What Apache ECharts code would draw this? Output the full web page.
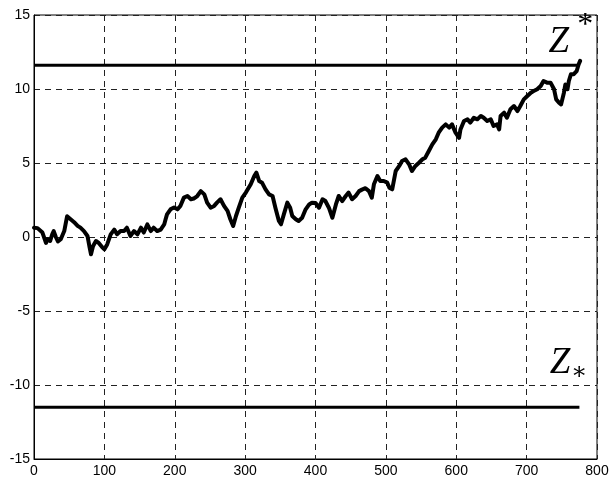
<!DOCTYPE html>
<html><head><meta charset="utf-8">
<script src="https://cdn.jsdelivr.net/npm/echarts@6/dist/echarts.min.js"></script>
<style>html,body{margin:0;padding:0;background:#fff}#c{width:612px;height:482px}</style>
</head><body><div id="c"></div>
<script>
var xTicks = [0,100,200,300,400,500,600,700,800];
var yTicks = [-15,-10,-5,0,5,10,15];
var pathX = [0,5,7,12,17,19,23,26,28,31,34,38,43,47,52,57,62,66,71,76,79,81,84,88,92,97,100,104,109,114,118,123,128,132,137,142,147,152,156,161,166,170,175,180,185,187,189,194,199,
204,208,213,218,223,227,232,237,242,246,251,256,260,265,270,275,279,283,287,291,296,301,308,313,316,320,324,329,334,339,343,348,351,355,360,364,367,372,376,381,386,391,395,
400,405,410,414,419,424,429,433,438,443,447,452,457,462,466,471,476,480,483,488,492,497,502,505,509,514,519,523,528,533,537,542,547,552,556,561,566,571,575,580,585,590,594,599,604,
606,611,616,620,625,630,635,639,644,649,653,658,661,663,668,672,677,682,687,691,696,701,706,710,715,720,724,729,734,739,742,746,749,753,755,758,760,763,767,771,774,776];
var pathY = [0.63,0.6,0.5,0.3,-0.4,-0.15,-0.27,0.2,0.4,0,-0.3,-0.15,0.4,1.4,1.2,1.0,0.75,0.63,0.4,0.07,-0.7,-1.17,-0.6,-0.27,-0.4,-0.7,-0.83,-0.5,0.18,0.5,0.18,0.4,0.4,0.63,0.07,0.4,0.18,0.63,0.3,0.85,0.4,0.63,0.4,0.5,0.85,1.2,1.53,1.87,2.0,
1.87,2.1,2.66,2.77,2.55,2.6,2.77,3.1,2.88,2.32,1.98,2.1,2.32,2.55,2.1,1.76,1.2,0.74,1.42,1.98,2.66,3.0,3.56,4.12,4.35,3.78,3.67,3.22,2.88,2.77,1.98,1.08,0.86,1.53,2.32,1.98,1.42,1.2,1.08,1.3,1.87,2.2,2.32,
2.3,1.98,2.55,2.43,1.98,1.3,2.2,2.77,2.43,2.77,3.0,2.55,2.77,3.1,3.2,3.3,3.1,2.66,3.56,4.12,3.78,3.78,3.67,3.33,3.22,4.46,4.8,5.13,5.25,4.91,4.46,4.8,5.02,5.25,5.36,5.81,6.26,6.6,7.05,7.39,7.61,7.39,7.61,7.05,6.7,
7.27,7.84,7.95,7.73,8.06,7.95,8.18,8.06,7.84,7.95,7.5,7.61,7.27,8.18,8.4,8.06,8.63,8.85,8.51,8.85,9.3,9.53,9.75,9.86,9.98,10.2,10.54,10.43,10.43,9.98,9.3,9.08,8.96,9.75,10.3,9.98,10.54,11.0,11.0,11.2,11.67,11.9];
var upperLevel = 11.6;
var lowerLevel = -11.5;
var levelEnd = 775;

var chart = echarts.init(document.getElementById('c'), null, {renderer:'canvas'});
var lineData = pathX.map(function(x,i){return [x, pathY[i]];});
var font = 'Liberation Sans, Arial, sans-serif';
chart.setOption({
  animation:false,
  backgroundColor:'#fff',
  grid:{left:34,right:15,top:15,bottom:23,show:true,borderColor:'#000',borderWidth:1,containLabel:false},
  xAxis:{type:'value',min:xTicks[0],max:xTicks[xTicks.length-1],interval:100,
    axisLine:{show:true,onZero:false,lineStyle:{color:'#000',width:1}},
    axisTick:{show:false},
    axisLabel:{color:'#000',fontSize:14,fontFamily:font,margin:5},
    splitLine:{show:true,lineStyle:{color:'#222',type:[6,5],width:1}}},
  yAxis:{type:'value',min:yTicks[0],max:yTicks[yTicks.length-1],interval:5,
    axisLine:{show:true,onZero:false,lineStyle:{color:'#000',width:1}},
    axisTick:{show:false},
    axisLabel:{color:'#000',fontSize:14,fontFamily:font,margin:4},
    splitLine:{show:true,lineStyle:{color:'#222',type:[6,5],width:1}}},
  series:[
    {type:'line',data:[[0,upperLevel],[levelEnd,upperLevel]],showSymbol:false,lineStyle:{color:'#000',width:3},z:3},
    {type:'line',data:[[0,lowerLevel],[levelEnd,lowerLevel]],showSymbol:false,lineStyle:{color:'#000',width:3},z:3},
    {type:'line',data:lineData,showSymbol:false,lineStyle:{color:'#000',width:4,join:'round',cap:'round'},z:4}
  ]
});
function px(x,y){return chart.convertToPixel({gridIndex:0},[x,y]);}
var zTop = px(731,11.9), sTop = px(772,15.35);
var zBot = px(733,-9.75), sBot = px(763,-8.35);
var serif = 'Liberation Serif, Times New Roman, serif';
chart.setOption({graphic:[
  {type:'text',x:zTop[0],y:zTop[1],style:{text:'Z',font:'italic 37px '+serif,fill:'#000',textVerticalAlign:'bottom'}},
  {type:'text',x:sTop[0],y:sTop[1],style:{text:'*',font:'32px '+serif,fill:'#000',textVerticalAlign:'top'}},
  {type:'text',x:zBot[0],y:zBot[1],style:{text:'Z',font:'italic 37px '+serif,fill:'#000',textVerticalAlign:'bottom'}},
  {type:'text',x:sBot[0],y:sBot[1],style:{text:'\u2217',font:'24px DejaVu Serif, serif',fill:'#000',textVerticalAlign:'top'}}
]});
</script></body></html>
